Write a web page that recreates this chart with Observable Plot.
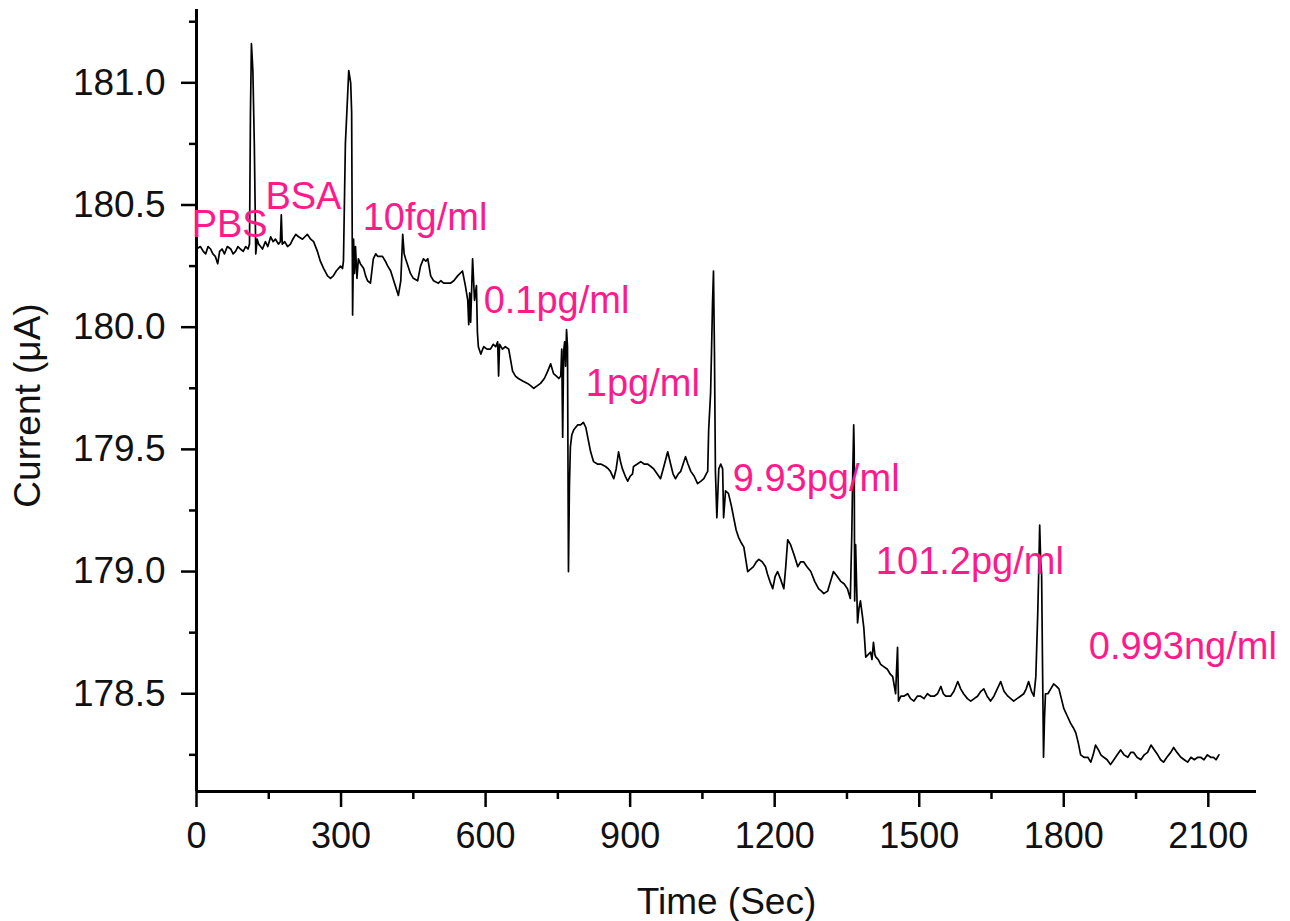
<!DOCTYPE html>
<html><head><meta charset="utf-8">
<script src="https://cdn.jsdelivr.net/npm/d3@7"></script>
<script src="https://cdn.jsdelivr.net/npm/@observablehq/plot@0.6"></script>
<style>body{margin:0;background:#fff;} svg{display:block}</style>
</head><body><div id="chart"></div>
<script>
const time = [0,8,14,19,24,29,34,39,44,48,53,58,64,71,76,81,86,91,97,102,107,110,
112,114,117,120,123,126,
129,133,137,143,148,154,159,164,170,174,176,178,183,189,195,200,206,212,220,225,230,237,243,251,257,264,272,278,284,290,299,303,
305,309,313,316,320,322,324,326,328,330,333,336,340,347,351,355,361,367,372,376,386,392,397,403,411,419,424,428,431,434,444,450,459,465,471,476,480,486,492,502,507,513,521,527,534,542,552,558,563,565,567,569,573,577,581,583,585,
590,596,603,610,616,621,625,627,629,635,641,648,656,662,668,677,687,694,700,707,714,722,729,735,741,747,752,756,
758,760,762,764,766,768,770,772,774,776,779,783,791,797,803,808,813,818,824,832,839,849,855,859,866,871,876,880,884,890,895,900,905,907,915,922,929,936,943,949,956,963,970,978,984,989,994,1000,1005,1010,1015,1020,1026,1033,1040,1047,1053,1058,1061,
1063,1067,1069,1071,1073,1075,1077,1080,1084,1088,1092,1094,1098,1104,1110,1115,1120,1125,1130,1136,1140,1144,1150,1156,1162,1167,1174,1181,1185,1190,1196,1201,1206,1212,1219,1223,1227,1233,1240,1248,1254,1260,1267,1275,1283,1291,1297,1302,1310,1316,1322,1330,1337,1344,1351,1357,
1360,1362,1364,1365,1366,1368,1370,1372,1375,1378,1382,1385,1389,1394,1399,1402,1405,1408,1410,1415,1420,1427,1434,1440,1445,1451,1453,1455,1457,1462,1468,1476,1482,1489,1496,1503,1510,1517,1524,1531,1538,1545,1550,1555,1565,1572,1580,1586,1592,1600,1607,1614,1621,1628,1634,1641,1648,1655,1662,1669,1676,1684,1690,1696,1703,1710,1717,1722,1727,1733,1738,
1742,1744,1746,1748,1750,1752,1754,1756,1758,1760,1762,1767,1773,1779,1785,1790,1795,1800,1807,1814,1820,1825,1830,1835,1842,1850,1856,1861,1866,1872,1877,1883,1890,1897,1904,1911,1918,1925,1933,1939,1945,1952,1960,1967,1974,1981,1988,1995,2001,2007,2014,2022,2028,2035,2043,2050,2057,2064,2071,2078,2084,2091,2098,2105,2111,2116,2122];

const current = [180.32,180.33,180.31,180.30,180.33,180.32,180.30,180.29,180.26,180.31,180.32,180.30,180.33,180.32,180.30,180.31,180.33,180.32,180.31,180.33,180.32,180.34,
180.88,181.16,181.05,180.75,180.30,180.36,
180.34,180.33,180.32,180.35,180.33,180.37,180.35,180.36,180.34,180.35,180.46,180.34,180.35,180.33,180.34,180.36,180.38,180.37,180.36,180.37,180.38,180.36,180.35,180.31,180.27,180.24,180.21,180.20,180.21,180.23,180.25,180.24,
180.27,180.75,180.92,181.05,181.00,180.88,180.05,180.36,180.22,180.33,180.20,180.28,180.26,180.24,180.21,180.19,180.18,180.28,180.30,180.29,180.29,180.27,180.25,180.23,180.18,180.13,180.19,180.38,180.30,180.28,180.22,180.20,180.19,180.25,180.28,180.27,180.28,180.21,180.19,180.18,180.19,180.18,180.18,180.18,180.19,180.21,180.23,180.17,180.11,180.01,180.14,180.02,180.28,180.11,180.17,179.98,179.92,
179.89,179.92,179.91,179.91,179.93,179.92,179.94,179.80,179.93,179.91,179.92,179.91,179.82,179.80,179.79,179.78,179.77,179.76,179.75,179.76,179.77,179.79,179.82,179.85,179.81,179.80,179.79,179.80,
179.91,179.55,179.90,179.94,179.84,179.99,179.92,179.00,179.35,179.51,179.56,179.58,179.60,179.60,179.61,179.59,179.54,179.49,179.45,179.44,179.44,179.43,179.42,179.41,179.38,179.42,179.49,179.45,179.42,179.39,179.37,179.39,179.40,179.43,179.44,179.45,179.44,179.44,179.43,179.42,179.40,179.38,179.43,179.49,179.44,179.40,179.38,179.40,179.41,179.44,179.47,179.44,179.41,179.39,179.36,179.37,179.38,179.40,179.41,
179.58,179.73,179.91,180.10,180.23,179.90,179.41,179.22,179.42,179.44,179.42,179.22,179.33,179.32,179.27,179.22,179.17,179.14,179.12,179.10,179.05,179.00,179.01,179.02,179.04,179.05,179.04,179.02,178.99,178.96,178.93,178.98,179.00,178.97,178.93,179.02,179.13,179.11,179.07,179.02,179.04,179.04,179.02,179.00,178.96,178.93,178.92,178.91,178.92,178.96,179.00,178.98,178.96,178.95,178.93,178.89,
179.15,179.40,179.60,179.50,178.88,179.11,178.95,178.79,178.85,178.88,178.82,178.77,178.65,178.66,178.67,178.64,178.71,178.66,178.65,178.64,178.62,178.61,178.60,178.58,178.57,178.50,178.60,178.69,178.47,178.49,178.49,178.50,178.48,178.47,178.49,178.49,178.48,178.50,178.49,178.49,178.50,178.53,178.50,178.49,178.49,178.51,178.55,178.52,178.50,178.48,178.47,178.48,178.49,178.51,178.52,178.49,178.47,178.49,178.52,178.55,178.51,178.49,178.48,178.47,178.48,178.49,178.50,178.52,178.55,178.51,178.49,
178.57,178.70,178.83,179.00,179.19,179.05,178.99,178.60,178.24,178.40,178.50,178.50,178.52,178.54,178.53,178.52,178.48,178.44,178.41,178.38,178.36,178.34,178.30,178.25,178.24,178.24,178.22,178.25,178.29,178.27,178.25,178.24,178.23,178.21,178.23,178.25,178.27,178.25,178.24,178.26,178.26,178.24,178.23,178.25,178.26,178.29,178.27,178.25,178.23,178.22,178.24,178.26,178.28,178.26,178.24,178.23,178.22,178.24,178.23,178.24,178.24,178.23,178.25,178.24,178.24,178.23,178.25];

const xTicks = [0, 300, 600, 900, 1200, 1500, 1800, 2100];
const xMinor = [150, 450, 750, 1050, 1350, 1650, 1950];
const yTicks = [178.5, 179.0, 179.5, 180.0, 180.5, 181.0];
const yMinor = [178.25, 178.75, 179.25, 179.75, 180.25, 180.75, 181.25];

const labels = ["PBS", "BSA", "10fg/ml", "0.1pg/ml", "1pg/ml", "9.93pg/ml", "101.2pg/ml", "0.993ng/ml"];
const labelTime = [-10, 143, 345, 596, 808, 1113, 1410, 1852];
const labelCurrent = [180.371, 180.482, 180.396, 180.057, 179.718, 179.330, 178.991, 178.644];

const series = time.map((t, i) => ({t, c: current[i]}));
const notes = labels.map((s, i) => ({s, t: labelTime[i], c: labelCurrent[i]}));

const font = "'Liberation Sans', Arial, sans-serif";
const plot = Plot.plot({
  width: 1290, height: 921,
  marginLeft: 196, marginRight: 34, marginTop: 9, marginBottom: 130,
  style: {fontFamily: font, background: "#fff", color: "#000"},
  x: {domain: [0, 2200]},
  y: {domain: [178.1, 181.3]},
  marks: [
    Plot.line(series, {x: "t", y: "c", stroke: "#000", strokeWidth: 1.7}),
    Plot.ruleX([0], {stroke: "#000", strokeWidth: 3}),
    Plot.ruleY([178.1], {stroke: "#000", strokeWidth: 3}),
    Plot.axisX({ticks: xTicks, tickSize: 16, tickPadding: 15, tickFormat: d3.format("d"), fontSize: 36, label: null, strokeWidth: 2.5, fill: "#111", stroke: "#000"}),
    Plot.axisX({ticks: xMinor, tickSize: 8, label: null, strokeWidth: 2.5, stroke: "#000", fill: "none"}),
    Plot.axisY({ticks: yTicks, tickSize: 15, tickPadding: 16, tickFormat: d3.format(".1f"), fontSize: 37, label: null, strokeWidth: 2.5, fill: "#111", stroke: "#000"}),
    Plot.axisY({ticks: yMinor, tickSize: 7, label: null, strokeWidth: 2.5, stroke: "#000", fill: "none"}),
    Plot.text(notes, {x: "t", y: "c", text: "s", textAnchor: "start", lineAnchor: "bottom", fill: "#ff1a8c", fontSize: 38}),
    Plot.text(["Time (Sec)"], {frameAnchor: "bottom", lineAnchor: "bottom", textAnchor: "middle", dy: 122, fontSize: 37, fill: "#111"}),
    Plot.text(["Current (μA)"], {frameAnchor: "left", textAnchor: "middle", lineAnchor: "middle", dx: -168, dy: 5, rotate: -90, fontSize: 37, fill: "#111"})
  ]
});
document.getElementById("chart").appendChild(plot);
</script>
</body></html>
